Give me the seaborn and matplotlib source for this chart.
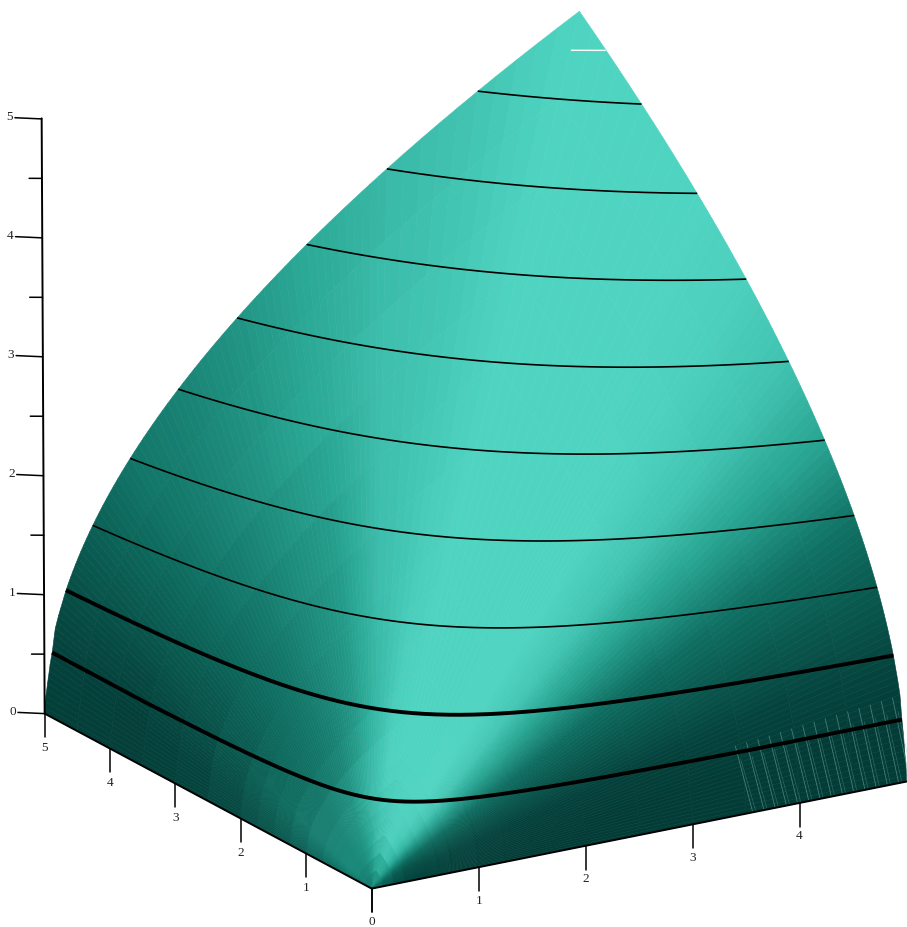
import numpy as np
import matplotlib
matplotlib.use('Agg')
import matplotlib.pyplot as plt
import seaborn as sns
from mpl_toolkits.mplot3d import proj3d
from mpl_toolkits.mplot3d.art3d import Poly3DCollection

# heights along the far rim of the surface and how far the rim has run at that height
rim_z = [0, .05, .1, .15, .2, .25, .3, .35, .4, .45, .5, .55, .6, .65, .7, .75, .8, .85, .9, .95,
         1, 1.05, 1.1, 1.15, 1.2, 1.25, 1.3, 1.35, 1.4, 1.45, 1.5, 1.55, 1.6, 1.65, 1.7, 1.75,
         1.8, 1.85, 1.9, 1.95, 2, 2.05, 2.1, 2.15, 2.2, 2.25, 2.3, 2.35, 2.4, 2.45, 2.5, 2.55,
         2.6, 2.65, 2.7, 2.75, 2.8, 2.85, 2.9, 2.95, 3, 3.05, 3.1, 3.15, 3.2, 3.25, 3.3, 3.35,
         3.4, 3.45, 3.5, 3.55, 3.6, 3.65, 3.7, 3.75, 3.8, 3.85, 3.9, 3.95, 4, 4.1, 4.2, 4.3,
         4.4, 4.5, 4.6, 4.7, 4.8, 4.9, 5]
rim_run = [0, .002, .005, .012, .02, .027, .035, .043, .05, .06, .07, .078, .085, .092, .1, .115,
           .13, .147, .165, .182, .2, .2205, .242, .2645, .288, .3125, .338, .3645, .392, .4205,
           .45, .4805, .512, .5445, .578, .6125, .648, .6845, .722, .7605, .8, .8405, .882,
           .9245, .968, 1.0125, 1.058, 1.1045, 1.152, 1.2005, 1.25, 1.3005, 1.352, 1.4045,
           1.458, 1.5125, 1.568, 1.6245, 1.682, 1.7405, 1.8, 1.8605, 1.922, 1.9845, 2.048,
           2.1125, 2.178, 2.2445, 2.312, 2.3805, 2.45, 2.5205, 2.592, 2.6645, 2.738, 2.8125,
           2.888, 2.9645, 3.042, 3.1205, 3.2, 3.362, 3.528, 3.698, 3.872, 4.05, 4.232, 4.418,
           4.608, 4.802, 5]

# shade (0 dark, 1 bright): one row per spot on the rim, from the
# x=5 foot over the far corner to the y=5 foot, one column per distance out from the origin
shade_out = [0, .06, .15, .25, .5, .75, 1]
shade_rows = [
    [.25, .05, .02, 0, 0, 0, 0],
    [.3, .08, .03, .01, 0, 0, 0],
    [.35, .12, .05, .03, .03, .05, .07],
    [.4, .18, .15, .15, .17, .18, .2],
    [.45, .3, .3, .32, .32, .35, .36],
    [.5, .5, .6, .62, .6, .62, .65],
    [.5, .75, .9, .9, .88, .88, .86],
    [.5, .9, 1, 1, 1, .98, .96],
    [.5, .95, 1, 1, 1, 1, 1],
    [.5, .95, 1, 1, 1, 1, 1],
    [.5, .9, 1, 1, 1, 1, 1],
    [.5, .85, .98, .96, .92, .9, .88],
    [.45, .72, .85, .78, .84, .84, .78],
    [.45, .62, .7, .58, .6, .7, .68],
    [.42, .55, .55, .45, .5, .58, .55],
    [.42, .52, .5, .38, .38, .46, .45],
    [.42, .5, .45, .34, .3, .34, .38],
    [.42, .5, .45, .33, .2, .22, .24],
    [.4, .5, .45, .33, .14, .1, .12],
    [.35, .45, .38, .26, .07, .02, .04],
    [.35, .35, .28, .18, .05, .02, .02],
]
ring_edges = [0, .02, .04, .06, .08, .1, .125, .15, .2, .25, .3, .35, .4, .5, .6, .7, .8, .9, 1]

thick_levels = [.5, 1]
thin_levels = [1.5, 2, 2.5, 3, 3.5, 4, 4.5]

x_ticks = [0, 1, 2, 3, 4]
y_ticks = [0, 1, 2, 3, 4, 5]
z_ticks = [0, 1, 2, 3, 4, 5]
z_minor = [.5, 1.5, 2.5, 3.5, 4.5]

# stray pale strokes low on the right and the white one near the top
streak_x = [3.40, 3.505, 3.61, 3.715, 3.82, 3.925, 4.03, 4.135, 4.24, 4.345, 4.45, 4.555, 4.66, 4.765, 4.87]
streak_z = [.585, .595, .605, .615, .625, .635, .645, .655, .665, .675, .685, .695, .705, .715, .725]
glint_x = [4.925, 5.243]
glint_z = [4.686, 4.628]

sns.set_theme(style='white')
plt.rcParams['font.family'] = ['Liberation Serif', 'DejaVu Serif']
cmap = sns.blend_palette(['#033c37', '#0f6f62', '#2aa795', '#50d4c2'], as_cmap=True)

fig = plt.figure(figsize=(9.07, 9.27), dpi=100)
ax = fig.add_axes([9.8 / 907, 11.3 / 927, 1, 907 / 927], projection='3d', proj_type='ortho')
ax.computed_zorder = False
ax.view_init(elev=19.1, azim=-121.45)
ax.set_xlim(0, 5, view_margin=0)
ax.set_ylim(0, 5, view_margin=0)
ax.set_zlim(0, 5, view_margin=0)
ax.set_box_aspect((1, 1, 1.005), zoom=1.164)
ax.set_axis_off()

rz = np.array(rim_z)
rr = np.array(rim_run)

# the rim runs from the y=0 foot up to the far corner and down to the x=0 foot
rim_x = np.r_[np.full(len(rz), 5.0), rr[::-1][1:]]
rim_y = np.r_[rr, np.full(len(rz) - 1, 5.0)]
rim_h = np.r_[rz, rz[::-1][1:]]
rim_pos = np.r_[rz, 10 - rz[::-1][1:]]

table = np.array(shade_rows)
row_pos = np.linspace(0, 10, len(table))


def shade_at(pos, out):
    col = [np.interp(pos, row_pos, table[:, j]) for j in range(table.shape[1])]
    return np.interp(out, shade_out, col)


quads = []
cols = []
for i in range(len(rim_x) - 1):
    a = np.array([rim_x[i], rim_y[i], rim_h[i]])
    b = np.array([rim_x[i + 1], rim_y[i + 1], rim_h[i + 1]])
    for s0, s1 in zip(ring_edges[:-1], ring_edges[1:]):
        quads.append([a * s0, a * s1, b * s1, b * s0])
        cols.append(cmap(shade_at((rim_pos[i] + rim_pos[i + 1]) / 2, (s0 + s1) / 2)))
ax.add_collection3d(Poly3DCollection(quads, facecolors=cols, edgecolors=cols, linewidths=.4, zorder=1))


def level_line(level, lw):
    keep = rim_h >= level
    k = level / rim_h[keep]
    ax.plot(rim_x[keep] * k, rim_y[keep] * k, rim_h[keep] * k, color='black', lw=lw, zorder=3,
            solid_capstyle='butt')


def tick_label(x, y, z, s):
    px, py, _ = proj3d.proj_transform(x, y, z, ax.get_proj())
    ax.text2D(px, py, s, transform=ax.transData, ha='center', va='center', fontsize=9.5, color='#222222')


for lev in thick_levels:
    level_line(lev, 2.8)
for lev in thin_levels:
    level_line(lev, 1.2)

for sx, sz in zip(streak_x, streak_z):
    ax.plot([sx, sx + .16], [0, 0], [sz, .01], color='#6fa8a2', lw=.6, alpha=.6, zorder=2)
    ax.plot([sx + .05, sx + .19], [0, 0], [sz - .12, .01], color='#6fa8a2', lw=.5, alpha=.4, zorder=2)
ax.plot(glint_x, [5, 5], glint_z, color='white', lw=1, zorder=4)

# axes drawn by hand
ax.plot([0, 5], [0, 0], [0, 0], color='black', lw=1.4, zorder=5)
ax.plot([0, 0], [0, 5], [0, 0], color='black', lw=1.4, zorder=5)
ax.plot([0, -.028], [5, 5], [0, 5.005], color='black', lw=1.4, zorder=5)

for t in x_ticks:
    ax.plot([t, t], [0, 0], [0, -.2], color='black', lw=1.1, zorder=5)
    tick_label(t, 0, -.28, str(t))
for t in y_ticks:
    ax.plot([0, 0], [t, t], [0, -.2], color='black', lw=1.1, zorder=5)
    if t > 0:
        tick_label(0, t, -.29, str(t))
for t in z_ticks:
    off = -.0056 * t
    ax.plot([off, off - .25], [5, 5], [t, t + .055], color='black', lw=1.1, zorder=5)
    tick_label(off - .3, 5, t + .07, str(t))
for t in z_minor:
    off = -.0056 * t
    ax.plot([off, off - .12], [5, 5], [t, t + .022], color='black', lw=1.1, zorder=5)

fig.savefig('out.png', dpi=100, facecolor='white')
